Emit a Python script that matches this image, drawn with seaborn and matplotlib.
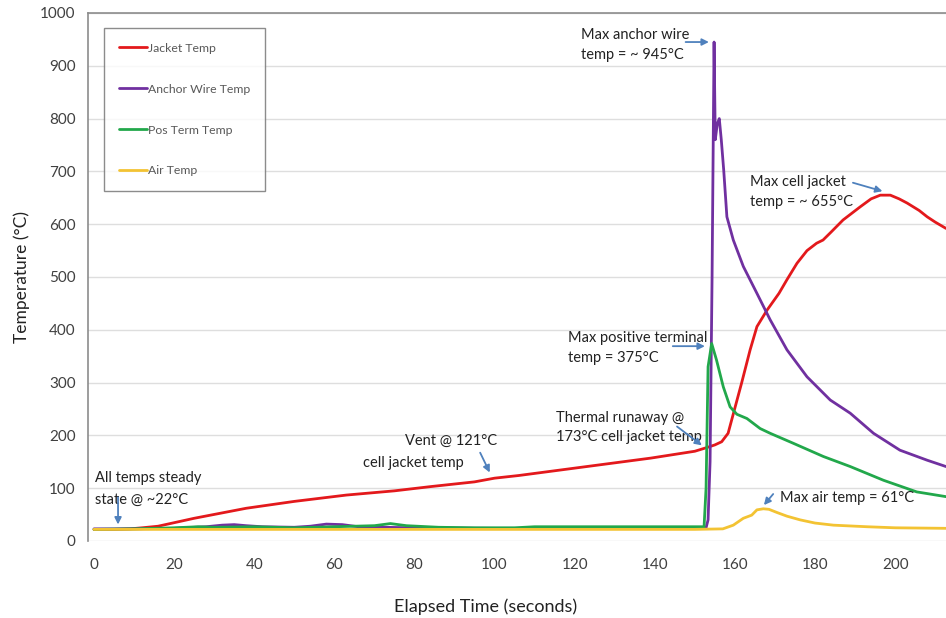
import matplotlib
matplotlib.use("Agg")
import matplotlib.pyplot as plt
import seaborn as sns
import pandas as pd

# ---- measured series (time in seconds, temperature in °C) ----
jacket_t = [0, 5, 9, 12, 16, 25, 38, 50, 63, 75, 84, 95, 100, 106, 120, 139, 150, 153,
            155, 156.7, 158.3, 160, 161.7, 163.8, 165.5, 168, 171, 173, 175.5, 178, 180.4,
            182, 184, 187, 191.3, 194, 196.3, 198.8, 201, 203, 206, 208, 210, 212.7]
jacket_v = [22, 22, 23, 25, 28, 43, 62, 75, 87, 95, 103, 112, 119, 124, 138, 157, 170, 177,
            182, 188, 204, 252, 300, 362, 406, 437, 469, 495, 526, 550, 564,
            570, 585, 608, 633, 648, 655, 655, 648, 640, 626, 614, 604, 592]

anchor_t = [0, 10, 20, 28, 32, 35, 38, 42, 50, 54, 58, 62, 66, 72, 80, 100, 120, 140,
            152.8, 153.3, 153.8, 154.3, 154.8, 155.1, 155.6, 156.1, 156.6, 157.2, 158,
            159.6, 162.1, 165.5, 168.8, 173, 178, 183.8, 188.8, 194.6, 201.2, 208, 212.7]
anchor_v = [23, 23, 24, 27, 30, 31, 29, 27, 26, 28, 32, 31, 27, 26, 25, 24, 24, 24,
            25, 40, 150, 500, 945, 760, 790, 800, 760, 703, 614,
            570, 520, 469, 419, 362, 311, 267, 242, 204, 172, 153, 141]

posterm_t = [0, 10, 20, 26, 30, 40, 50, 60, 70, 74, 78, 86, 95, 105, 110, 130, 152.3,
             152.8, 153.3, 154.2, 155.4, 157.1, 158.8, 160.5, 163, 166.3, 168.8, 174.6,
             182.1, 188.8, 197.1, 205.4, 212.7]
posterm_v = [22, 23, 25, 27, 26, 27, 25, 27, 29, 33, 29, 26, 25, 25, 27, 27, 27,
             100, 330, 374, 343, 292, 254, 240, 232, 213, 204, 185,
             160, 141, 115, 93, 84]

air_t = [0, 50, 100, 150, 157, 159.6, 162.1, 164.2, 165.5, 167.1, 168.5, 170.5, 173,
         176.3, 180, 184.6, 193, 200, 212.7]
air_v = [22, 22, 22, 22, 23, 30, 43, 49, 59, 61, 60, 54, 47,
         40, 34, 30, 27, 25, 24]

series_names = ["Jacket Temp", "Anchor Wire Temp", "Pos Term Temp", "Air Temp"]
series_colors = ["#e3191c", "#7030a0", "#22a84b", "#f3c333"]

x_ticks = [0, 20, 40, 60, 80, 100, 120, 140, 160, 180, 200]
y_ticks = [0, 100, 200, 300, 400, 500, 600, 700, 800, 900, 1000]

sns.set_theme(style="white")
plt.rcParams["font.family"] = ["Lato", "DejaVu Sans"]

fig = plt.figure(figsize=(9.46, 6.18), dpi=100)
ax = fig.add_axes([88 / 946, 77 / 618, 858 / 946, 528 / 618])

frames = []
for name, t, v in zip(series_names,
                      [jacket_t, anchor_t, posterm_t, air_t],
                      [jacket_v, anchor_v, posterm_v, air_v]):
    frames.append(pd.DataFrame({"time": t, "temp": v, "series": name}))
df = pd.concat(frames, ignore_index=True)

for name, color in zip(series_names, series_colors):
    sub = df[df["series"] == name]
    sns.lineplot(data=sub, x="time", y="temp", color=color, lw=2.0,
                 sort=False, estimator=None, label=name, ax=ax)

ax.set_xlim(-1.5, 212.7)
ax.set_ylim(0, 1000)
ax.set_xticks(x_ticks)
ax.set_yticks(y_ticks)
ax.tick_params(axis="y", length=0, labelsize=11, colors="#404040", pad=9)
ax.tick_params(axis="x", length=0, labelsize=11, colors="#404040", pad=12)
ax.grid(axis="y", color="#dedede", lw=1)
ax.set_axisbelow(True)

for side in ["right", "bottom"]:
    ax.spines[side].set_visible(False)
for side in ["left", "top"]:
    ax.spines[side].set_color("#8c8c8c")
    ax.spines[side].set_linewidth(1.2)

ax.set_xlabel("Elapsed Time (seconds)", fontsize=13, color="#222222")
ax.xaxis.set_label_coords(0.463, -0.108)
ax.set_ylabel("Temperature (°C)", fontsize=12.5, color="#222222")
ax.yaxis.set_label_coords(-0.068, 0.5)

leg = ax.legend(loc="upper left", bbox_to_anchor=(0.0186, 0.9716), borderaxespad=0,
                fontsize=8.8, handlelength=2.3, handletextpad=0.1, labelspacing=2.45,
                borderpad=1.2, frameon=True, fancybox=False, edgecolor="#6f6f6f")
leg.get_frame().set_linewidth(1.0)
for txt in leg.get_texts():
    txt.set_color("#595959")

arrow_kw = dict(arrowstyle="-|>", color="#4f81bd", lw=1.3, mutation_scale=10)
text_kw = dict(fontsize=10.5, color="#222222", va="center", ha="left")

# Peak anchor wire temperature
ax.text(121.6, 958, "Max anchor wire", **text_kw)
ax.text(121.6, 920, "temp = ~ 945°C", **text_kw)
ax.annotate("", xy=(154.2, 945), xytext=(147, 945), arrowprops=arrow_kw)

# Peak cell jacket temperature
ax.text(163.8, 680, "Max cell jacket", **text_kw)
ax.text(163.8, 642, "temp = ~ 655°C", **text_kw)
ax.annotate("", xy=(197.5, 661), xytext=(188.8, 680), arrowprops=arrow_kw)

# Peak positive terminal temperature
ax.text(118.4, 384, "Max positive terminal", **text_kw)
ax.text(118.4, 347, "temp = 375°C", **text_kw)
ax.annotate("", xy=(153.2, 369), xytext=(143.8, 369), arrowprops=arrow_kw)

# Thermal runaway onset
ax.text(115.4, 233, "Thermal runaway @", **text_kw)
ax.text(115.4, 197, "173°C cell jacket temp", **text_kw)
ax.annotate("", xy=(152.3, 178), xytext=(145, 220), arrowprops=arrow_kw)

# Venting
ax.text(77.7, 189, "Vent @ 121°C", **text_kw)
ax.text(67.2, 148, "cell jacket temp", **text_kw)
ax.annotate("", xy=(99.1, 125), xytext=(96.1, 172), arrowprops=arrow_kw)

# Initial steady state
ax.text(0.3, 119, "All temps steady", **text_kw)
ax.text(0.3, 78, "state @ ~22°C", **text_kw)
ax.annotate("", xy=(6, 26), xytext=(6, 88), arrowprops=arrow_kw)

# Peak air temperature
ax.text(171.3, 81, "Max air temp = 61°C", **text_kw)
ax.annotate("", xy=(166.8, 64), xytext=(170, 93), arrowprops=arrow_kw)

fig.savefig("out.png", dpi=100)
